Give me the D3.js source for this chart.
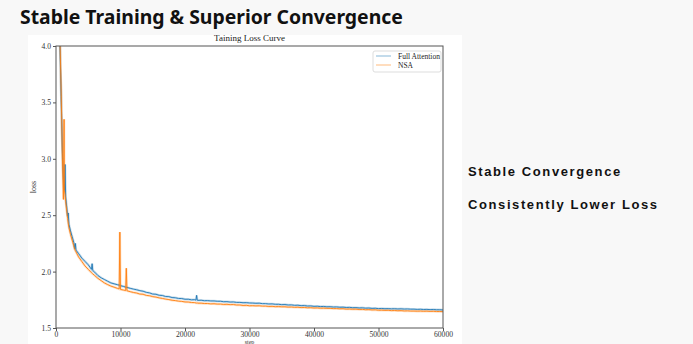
<!DOCTYPE html>
<html><head><meta charset="utf-8">
<script src="https://cdn.jsdelivr.net/npm/d3@7"></script>
<style>body{margin:0;background:#f8f8f8;overflow:hidden}svg{display:block}</style>
</head><body><svg id="c" width="693" height="344"></svg>
<script>
const pageTitle = "Stable Training & Superior Convergence";
const chartTitle = "Taining Loss Curve";
const bullets = ["Stable Convergence", "Consistently Lower Loss"];
const seriesNames = ["Full Attention", "NSA"];
const seriesColors = ["#1f77b4", "#ff7f0e"];
const xTicks = [0, 10000, 20000, 30000, 40000, 50000, 60000];
const yTicks = [1.5, 2.0, 2.5, 3.0, 3.5, 4.0];

const steps = [0,200,400,600,800,1000,1150,1250,1300,1400,1500,1700,1800,1900,2000,2250,2500,2600,2750,2900,3000,3100,3500,4000,4500,5000,5500,5600,5700,6000,6500,7000,7500,8000,8500,9000,9500,9800,9900,10000,10500,10800,10900,11000,11500,12000,
12500,13000,13500,14000,14500,15000,15500,16000,16500,17000,17500,18000,18500,19000,19500,20000,20500,21000,21500,21700,21800,21900,22000,22500,23000,23500,24000,24500,25000,25500,26000,26500,27000,27500,28000,28500,29000,29500,30000,
30500,31000,31500,32000,32500,33000,33500,34000,34500,35000,35500,36000,36500,37000,37500,38000,38500,39000,39500,40000,40500,41000,41500,42000,42500,43000,43500,44000,44500,45000,
45500,46000,46500,47000,47500,48000,48500,49000,49500,50000,50500,51000,51500,52000,52500,53000,53500,54000,54500,55000,55500,56000,56500,57000,57500,58000,58500,59000,59500,60000];

const fullAttention = [5.2,4.8,4.4,4.05,3.55,3.05,2.82,2.74,2.72,2.95,2.66,2.55,2.49,2.52,2.42,2.36,2.31,2.29,2.26,2.2,2.25,2.19,2.16,2.12,2.09,2.06,2.02,2.07,2.01,1.995,1.965,1.945,1.93,1.915,1.9,1.892,1.884,1.88,1.878,1.875,1.868,1.862,1.86,1.86,1.852,1.845,
1.839,1.831,1.826,1.816,1.811,1.801,1.799,1.79,1.788,1.779,1.778,1.77,1.768,1.762,1.761,1.755,1.755,1.75,1.751,1.747,1.79,1.746,1.745,1.746,1.742,1.743,1.74,1.74,1.737,1.737,1.733,1.734,1.73,1.731,1.727,1.727,1.724,1.725,1.722,
1.721,1.719,1.72,1.716,1.716,1.713,1.714,1.71,1.71,1.707,1.708,1.704,1.705,1.701,1.702,1.698,1.699,1.695,1.696,1.692,1.693,1.69,1.691,1.688,1.689,1.686,1.687,1.684,1.685,1.682,
1.683,1.68,1.681,1.678,1.679,1.676,1.677,1.674,1.675,1.672,1.673,1.671,1.672,1.67,1.671,1.669,1.67,1.668,1.669,1.667,1.667,1.665,1.666,1.664,1.665,1.663,1.664,1.662,1.662,1.66];

const nsa = [5.2,4.9,4.5,4.1,3.6,3.0,2.64,3.35,2.72,2.68,2.62,2.52,2.47,2.43,2.39,2.33,2.28,2.26,2.23,2.2,2.185,2.175,2.13,2.09,2.05,2.02,1.99,1.985,1.98,1.965,1.94,1.92,1.9,1.885,1.872,1.862,1.852,1.846,2.35,1.842,1.836,1.832,2.03,1.83,1.822,1.815,
1.81,1.801,1.799,1.789,1.786,1.778,1.774,1.767,1.762,1.756,1.752,1.746,1.743,1.738,1.736,1.731,1.73,1.726,1.725,1.722,1.721,1.722,1.72,1.72,1.717,1.717,1.714,1.715,1.712,1.712,1.709,1.71,1.707,1.708,1.704,1.704,1.7,1.701,1.697,
1.698,1.696,1.697,1.694,1.694,1.691,1.692,1.689,1.69,1.688,1.688,1.685,1.686,1.683,1.684,1.681,1.682,1.679,1.68,1.677,1.678,1.675,1.676,1.674,1.674,1.672,1.672,1.67,1.671,1.667,
1.668,1.666,1.667,1.664,1.665,1.662,1.663,1.66,1.661,1.657,1.658,1.656,1.657,1.654,1.655,1.653,1.654,1.651,1.652,1.65,1.65,1.649,1.65,1.648,1.649,1.647,1.648,1.646,1.646,1.645];

const svg = d3.select("#c");
svg.append("text").attr("x", 20).attr("y", 24).text(pageTitle)
  .attr("font-family", "Noto Sans").attr("font-weight", 700).attr("font-size", 19.4).attr("fill", "#111");

// figure panel
svg.append("rect").attr("x", 28).attr("y", 35).attr("width", 434).attr("height", 320).attr("fill", "#fff");

const L = 56, R = 443, T = 46, B = 328;
const x = d3.scaleLinear().domain([0, 60000]).range([L, R]);
const y = d3.scaleLinear().domain([1.5, 4.0]).range([B, T]);

svg.append("defs").append("clipPath").attr("id", "clip")
  .append("rect").attr("x", L).attr("y", T).attr("width", R - L).attr("height", B - T);

const serif = "Liberation Serif";
const data = [fullAttention, nsa];
const line = d3.line().x((d, i) => x(steps[i])).y(d => y(d));
const g = svg.append("g").attr("clip-path", "url(#clip)");
data.forEach((vals, k) => {
  g.append("path").datum(vals).attr("d", line).attr("fill", "none")
    .attr("stroke", seriesColors[k]).attr("stroke-opacity", 0.25).attr("stroke-width", 2.4);
});
data.forEach((vals, k) => {
  g.append("path").datum(vals).attr("d", line).attr("fill", "none")
    .attr("stroke", seriesColors[k]).attr("stroke-width", 0.9);
});

const xa = svg.append("g").attr("transform", `translate(0,${B})`)
  .call(d3.axisBottom(x).tickValues(xTicks).tickFormat(d3.format("d")).tickSize(3).tickPadding(1));
const ya = svg.append("g").attr("transform", `translate(${L},0)`)
  .call(d3.axisLeft(y).tickValues(yTicks).tickFormat(d3.format(".1f")).tickSize(3).tickPadding(2));
[xa, ya].forEach(a => {
  a.select(".domain").remove();
  a.selectAll("line").attr("stroke", "#555");
  a.selectAll("text").attr("font-family", serif).attr("font-size", 7.6).attr("fill", "#333");
});
svg.append("rect").attr("x", L).attr("y", T).attr("width", R - L).attr("height", B - T)
  .attr("fill", "none").attr("stroke", "#555").attr("stroke-width", 1);

svg.append("text").attr("x", (L + R) / 2).attr("y", 41).attr("text-anchor", "middle")
  .attr("font-family", serif).attr("font-size", 9).attr("fill", "#222").text(chartTitle);
svg.append("text").attr("transform", `translate(36,${(T + B) / 2}) rotate(-90)`).attr("text-anchor", "middle")
  .attr("font-family", serif).attr("font-size", 8).attr("fill", "#333").text("loss");
svg.append("text").attr("x", (L + R) / 2).attr("y", 343.6).attr("text-anchor", "middle")
  .attr("font-family", serif).attr("font-size", 6).attr("fill", "#333").text("step");

// legend
const lg = svg.append("g");
lg.append("rect").attr("x", 373).attr("y", 51).attr("width", 68).attr("height", 21).attr("rx", 2)
  .attr("fill", "#fff").attr("stroke", "#ddd");
seriesNames.forEach((n, k) => {
  const yy = 56 + k * 9;
  lg.append("line").attr("x1", 376).attr("x2", 391).attr("y1", yy).attr("y2", yy)
    .attr("stroke", seriesColors[k]).attr("stroke-opacity", 0.45).attr("stroke-width", 1.2);
  lg.append("text").attr("x", 398).attr("y", yy + 2.5).attr("font-family", serif).attr("font-size", 7.5)
    .attr("fill", "#222").text(n);
});

bullets.forEach((b, k) => {
  svg.append("text").attr("x", 468).attr("y", 176 + k * 33).text(b)
    .attr("font-family", "Liberation Sans").attr("font-weight", 700).attr("font-size", 13)
    .attr("letter-spacing", 1.6).attr("fill", "#111");
});
</script></body></html>
